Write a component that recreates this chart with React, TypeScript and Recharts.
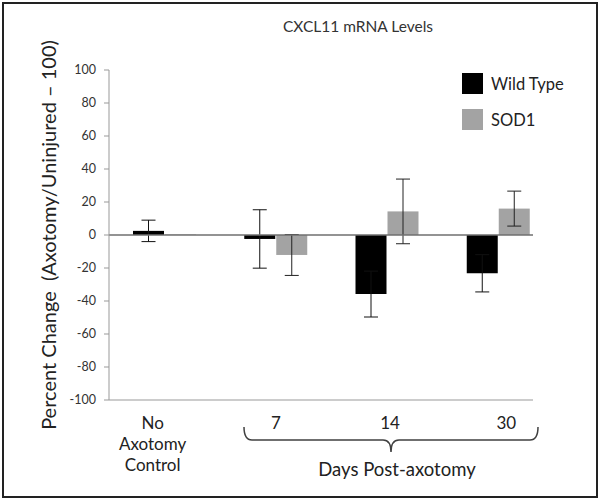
import React from "react";
import { BarChart, Bar, XAxis, YAxis, ErrorBar, ReferenceLine, Legend, Label } from "recharts";

const categories = ["No Axotomy Control", "7", "14", "30"];
const wildType = [2.5, -2.4, -35.8, -23.2];
const wildTypeErr = [6.5, 17.7, 13.9, 11.3];
const sod1 = [0.3, -12.1, 14.3, 16.0];
const sod1Err = [0, 12.4, 19.6, 10.6];
const yTicks = [-100, -80, -60, -40, -20, 0, 20, 40, 60, 80, 100];
const seriesOrder = ["Wild Type", "SOD1"];

const data = categories.map((day, i) => ({
  day,
  wt: wildType[i],
  wtErr: wildTypeErr[i],
  sod1: sod1[i],
  sod1Err: sod1Err[i],
}));

const FONT = "Lato, 'Open Sans', sans-serif";
const labelNudge = [-12, 0, 3, 8];

function DayTick(props: any) {
  const { x, y, payload, index } = props;
  const cx = x + (labelNudge[index] ?? 0);
  const lines = String(payload.value).split(" ");
  return (
    <text x={cx} y={y} textAnchor="middle" fontSize={17} fill="#222" fontFamily={FONT}>
      {lines.map((l, i) => (
        <tspan key={i} x={cx} dy={i === 0 ? 29 : 21}>
          {l}
        </tspan>
      ))}
    </text>
  );
}

function SeriesLegend(props: any) {
  const items = [...(props.payload || [])].sort(
    (a: any, b: any) => seriesOrder.indexOf(a.value) - seriesOrder.indexOf(b.value)
  );
  return (
    <div style={{ fontFamily: FONT, fontSize: 16.5, color: "#222" }}>
      {items.map((e: any) => (
        <div key={e.value} style={{ display: "flex", alignItems: "center", height: 21, marginBottom: 15 }}>
          <span style={{ width: 21, height: 21, background: e.color, marginRight: 8, display: "inline-block" }} />
          {e.value}
        </div>
      ))}
    </div>
  );
}

export default function App() {
  return (
    <div style={{ position: "relative", width: 601, height: 500, background: "#fff" }}>
      <style>{`body{margin:0}`}</style>
      <div
        style={{
          position: "absolute",
          left: 0,
          right: 0,
          top: 17,
          textAlign: "center",
          paddingLeft: 115,
          fontFamily: FONT,
          fontSize: 15.5,
          color: "#333",
        }}
      >
        CXCL11 mRNA Levels
      </div>
      <BarChart
        width={601}
        height={500}
        data={data}
        margin={{ top: 70, right: 68, bottom: 0, left: 0 }}
        barSize={31}
        barGap={1}
      >
        <XAxis
          dataKey="day"
          height={100}
          padding={{ left: 0, right: -21 }}
          axisLine={{ stroke: "#999" }}
          tickLine={false}
          tickSize={0}
          tickMargin={0}
          tick={<DayTick />}
          interval={0}
        />
        <YAxis
          width={109}
          domain={[-100, 100]}
          ticks={yTicks}
          allowDataOverflow
          axisLine={{ stroke: "#999" }}
          tickLine={{ stroke: "#999" }}
          tickSize={5}
          tickMargin={8}
          tick={{ fontSize: 12.5, fill: "#333", fontFamily: FONT }}
        >
          <Label
            value={"Percent Change\u00a0\u00a0(Axotomy/Uninjured – 100)"}
            angle={-90}
            position="center"
            dx={-6}
            style={{ fontSize: 20, fill: "#222", fontFamily: FONT }}
          />
        </YAxis>
        <Legend
          layout="horizontal"
          verticalAlign="middle"
          align="center"
          content={<SeriesLegend />}
          wrapperStyle={{ top: 73, left: 462, width: "auto", height: "auto" }}
        />
        <Bar dataKey="wt" name="Wild Type" fill="#000000" isAnimationActive={false}>
          <ErrorBar dataKey="wtErr" width={7} stroke="#111" strokeWidth={1} direction="y" />
        </Bar>
        <Bar dataKey="sod1" name="SOD1" fill="#a3a3a3" isAnimationActive={false}>
          <ErrorBar dataKey="sod1Err" width={7} stroke="#222" strokeWidth={1} direction="y" />
        </Bar>
        <ReferenceLine y={0} stroke="#6f6f6f" strokeWidth={1.5} />
      </BarChart>
      <svg width={601} height={500} style={{ position: "absolute", left: 0, top: 0, pointerEvents: "none" }}>
        <path
          d="M244,427 Q244,440 252,440 L383,440 Q391,440 391,452 Q391,440 399,440 L530,440 Q538,440 538,427"
          fill="none"
          stroke="#404040"
          strokeWidth={1.5}
        />
        <text x={397} y={476} textAnchor="middle" fontSize={18.5} fill="#222" fontFamily={FONT}>
          Days Post-axotomy
        </text>
      </svg>
      <div
        style={{
          position: "absolute",
          left: 2,
          top: 2,
          width: 592,
          height: 492,
          border: "2px solid #222",
          pointerEvents: "none",
        }}
      />
    </div>
  );
}
